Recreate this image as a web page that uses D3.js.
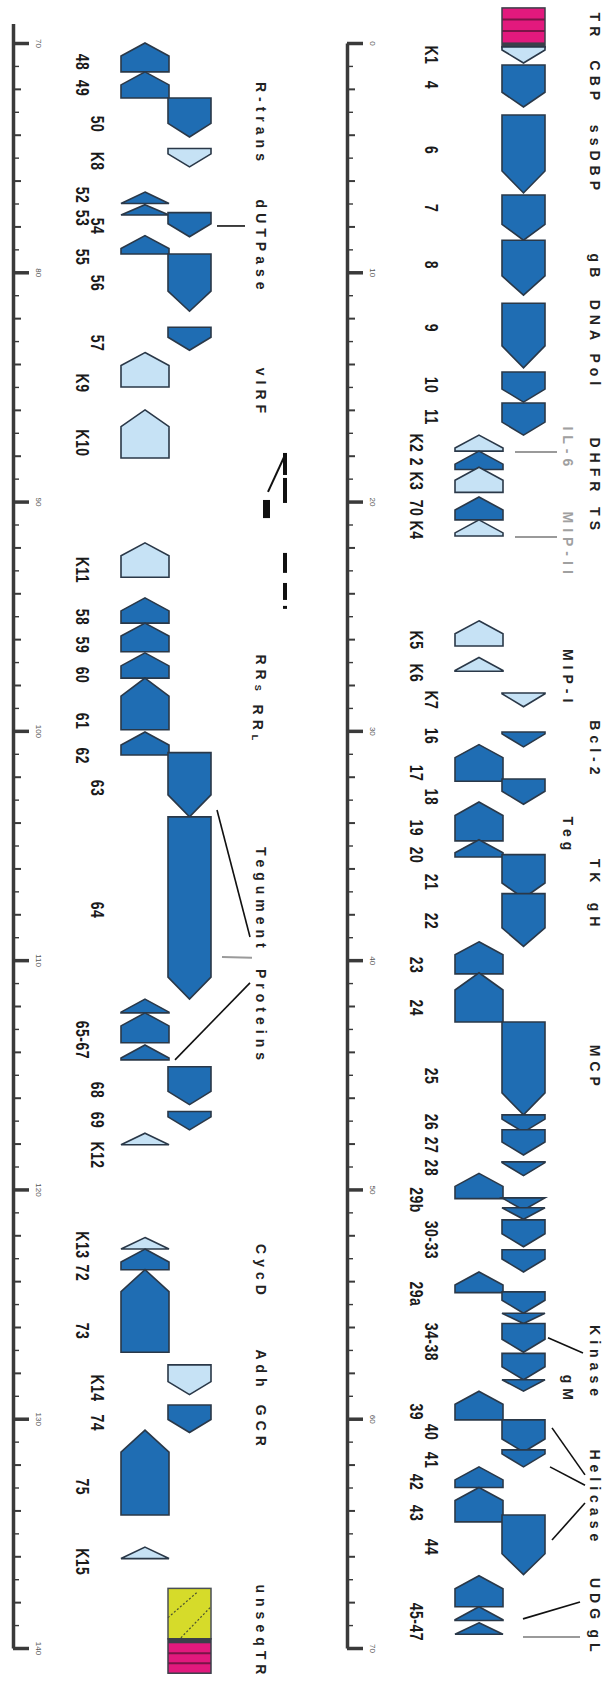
<!DOCTYPE html>
<html lang="en">
<head>
<meta charset="UTF-8">
<title>KSHV genome map</title>
<style>
  html, body { margin: 0; padding: 0; background: #fff; }
  svg { display: block; }
  text { font-family: "Liberation Sans", Arial, sans-serif; }
  .gene-label { font-size: 14px; font-weight: bold; letter-spacing: 0.5px; fill: #1a1a1a; }
  .func-label { font-size: 14px; font-weight: bold; letter-spacing: 5px; fill: #222; }
  .func-label.gray { fill: #a0a0a0; }
  .axis .domain { stroke: #3a3a3a; stroke-width: 3.5; }
  .axis .tick line { stroke: #3a3a3a; }
  .axis .tick text { font-size: 8px; fill: #555; }
</style>
<script src="https://cdnjs.cloudflare.com/ajax/libs/d3/7.8.5/d3.min.js"></script>
</head>
<body>
<svg class="map"></svg>
<script>
// ---- data (kb along the genome) ----
// strand 1 = rightward (drawn pointing down), -1 = leftward
const geneName = ["K1","4","6","7","8","9","10","11","K2","2","K3","70","K4","K5","K6","K7",
  "16","17","18","19","20","21","22","23","24","25","26","27","28","29b","30","31","32","33",
  "29a","34","35","36","37","38","39","40","41","42","43","44","45","46","47",
  "48","49","50","K8","52","53","54","55","56","57","K9","K10","K11","58","59","60","61","62",
  "63","64","65","66","67","68","69","K12","K13","72","73","K14","74","75","K15"];
const geneStart = [0.17,0.96,3.14,6.63,8.6,11.35,14.35,15.7,17.1,17.8,18.5,19.8,20.8,25.2,26.8,28.35,
  30.05,30.6,32.1,33.1,34.75,35.4,37.1,39.2,40.55,42.7,46.75,47.4,48.8,49.3,50.37,50.8,51.33,52.63,
  53.6,54.47,55.4,55.85,57.15,58.3,58.8,60.05,61.36,62.1,63.0,64.2,66.85,68.2,68.9,
  70.0,71.26,72.4,74.6,76.5,77.05,77.4,78.4,79.2,82.4,83.5,86.0,91.8,94.2,95.3,96.6,97.7,100.05,
  100.95,103.75,111.7,112.3,113.7,114.65,116.6,117.55,122.1,122.6,123.5,127.65,129.4,130.5,135.6];
const geneEnd = [0.87,2.79,6.54,8.6,11.0,14.17,15.66,17.1,17.8,18.6,19.6,20.8,21.5,26.3,27.4,28.95,
  30.7,32.2,33.2,34.8,35.5,37.3,39.4,40.6,42.7,46.75,47.5,48.5,49.4,50.4,50.9,51.3,52.5,53.6,
  54.5,55.4,55.85,57.1,58.3,58.8,60.05,61.45,62.1,63.0,64.5,66.8,68.2,68.8,69.4,
  71.26,72.4,74.1,75.4,77.0,77.5,78.45,79.2,81.7,83.4,85.0,88.1,93.3,95.3,96.55,97.7,99.95,101.05,
  103.75,111.7,112.3,113.6,114.35,116.3,117.4,118.05,122.6,123.5,127.1,128.95,130.6,134.2,136.1];
const geneStrand = [1,1,1,1,1,1,1,1,-1,-1,-1,-1,-1,-1,-1,1,
  1,-1,1,-1,-1,1,1,-1,-1,1,1,1,1,-1,1,1,1,1,
  -1,1,1,1,1,1,-1,1,1,-1,-1,1,-1,-1,-1,
  -1,-1,1,1,-1,-1,1,-1,1,1,-1,-1,-1,-1,-1,-1,-1,-1,
  1,1,-1,-1,-1,1,1,-1,-1,-1,-1,1,1,-1,-1];

// ORF number labels
const labelText = ["K1","4","6","7","8","9","10","11","K2","2","K3","70","K4","K5","K6","K7","16","17","18",
  "19","20","21","22","23","24","25","26","27","28","29b","30-33","29a","34-38","39","40","41","42","43","44","45-47",
  "48","49","50","K8","52","53","54","55","56","57","K9","K10","K11","58","59","60","61","62","63","64",
  "65-67","68","69","K12","K13","72","73","K14","74","75","K15"];
const labelKb = [0.52,1.83,4.67,7.2,9.68,12.43,14.92,16.31,17.44,18.27,19.1,20.28,21.24,26.04,27.47,28.65,30.22,31.84,32.88,
  34.23,35.41,36.59,38.29,40.21,42.08,45.05,47.06,48.06,49.06,50.46,52.2,54.56,56.65,59.7,60.58,61.8,62.76,64.11,65.6,68.86,
  70.83,71.96,73.53,75.15,76.63,77.63,77.98,79.33,80.47,83.08,84.83,87.44,92.98,95.03,96.25,97.56,99.57,101.09,102.49,107.81,
  113.48,115.66,116.97,118.5,122.42,123.64,126.17,128.66,130.18,132.97,136.24];
const labelStrand = [1,1,1,1,1,1,1,1,-1,-1,-1,-1,-1,-1,-1,1,1,-1,1,
  -1,-1,1,1,-1,-1,1,1,1,1,-1,1,-1,1,-1,1,1,-1,-1,1,-1,
  -1,-1,1,1,-1,-1,1,-1,1,1,-1,-1,-1,-1,-1,-1,-1,-1,1,1,
  -1,1,1,1,-1,-1,-1,1,1,-1,-1];

// function names ("_X" = subscript)
const funcText = ["TR","CBP","ssDBP","gB","DNA Pol","IL-6","DHFR","TS","MIP-II","MIP-I","Bcl-2","Teg","TK","gH","MCP",
  "Kinase","gM","Helicase","UDG","gL",
  "R-trans","dUTPase","vIRF","RR_S RR_L","Tegument","Proteins","CycD","Adh","GCR","unseqTR"];
const funcKb = [-0.7,1.74,5.1,9.81,13.17,17.7,18.49,20.85,21.9,27.7,30.83,34.58,36.2,38.12,44.7,
  57.57,58.74,63.45,67.95,69.78,
  73.53,78.9,85.26,98.65,107.37,112.48,123.6,127.9,130.4,139.3];
const funcInner = [0,0,0,0,0,1,0,0,1,1,0,1,0,0,0, 0,1,0,0,0, 0,0,0,0,0,0,0,0,0,0];
const funcGray  = [0,0,0,0,0,1,0,0,1,0,0,0,0,0,0, 0,0,0,0,0, 0,0,0,0,0,0,0,0,0,0];

// terminal repeats and unsequenced block
const blockKind = ["TR","unseq","TR"];
const blockStart = [-1.53,137.4,139.6];
const blockEnd = [0.2,139.6,141.1];

// ---- layout ----
const width = 612, height = 1686;
const trackDomains = [[0, 70], [70, 140]];
const trackAxisX = [347, 13];
const yTop = 43, yBottom = 1648;
const y = trackDomains.map(d => d3.scaleLinear().domain(d).range([yTop, yBottom]));
const trackOf = kb => kb < 70 ? 0 : 1;
const lane = { "1": [155, 198], "-1": [108, 156] };
const labelX = { "1": 85, "-1": 70 };
const funcX = [248, 221];

// leader lines: [kb from, x from, kb to, x to, gray]
const leaders = [
  [17.84,168,17.84,210,1],[21.54,168,21.54,210,1],
  [56.47,201,57.13,236,0],
  [60.4,205,62.45,238,0],[62.1,203,62.9,238,0],[65.29,205,63.68,238,0],
  [68.73,176,67.99,233,0],[69.52,176,69.52,233,1],
  [77.98,204,77.98,232,0],
  [103.45,204,108.99,237,0],[109.86,209,109.9,239,1],[114.35,162,110.99,237,0]
];
// stray dash marks near vIRF: [kb from, kb to, x, w]
const dashMarks = [[87.88,88.84,270,4],[88.97,90.06,270,4],[89.93,90.72,250,7],
  [92.24,93.11,270,4],[93.55,94.29,270,4],[94.55,94.68,270,4]];

const svg = d3.select("svg.map").attr("width", width).attr("height", height);
svg.append("rect").attr("width", width).attr("height", height).attr("fill", "#fff");

// ---- axes ----
trackDomains.forEach((dom, t) => {
  const ax = trackAxisX[t];
  const lo = t === 0 ? dom[0] : dom[0] - 0.85;
  const sc = y[t].copy().domain([lo, dom[1]]).range([y[t](lo), y[t](dom[1])]);
  const g = svg.append("g").attr("class", "axis").attr("transform", `translate(${ax},0)`);

  const minor = g.append("g").call(d3.axisRight(sc)
    .tickValues(d3.range(dom[0], dom[1] + 1, 1).filter(v => v % 10 !== 0))
    .tickSize(8).tickSizeOuter(0).tickFormat(""));
  minor.selectAll(".tick line")
    .attr("x2", d => d % 2 === 0 ? 8 : 6)
    .attr("stroke-width", d => d % 2 === 0 ? 2 : 1.4)
    .attr("stroke", d => d % 2 === 0 ? "#333" : "#777");

  const major = g.append("g").call(d3.axisRight(sc)
    .tickValues(d3.range(dom[0], dom[1] + 1, 10))
    .tickSize(16).tickSizeOuter(0));
  major.select(".domain").remove();
  major.selectAll(".tick line").attr("stroke-width", 3.5).attr("stroke", "#222");
  major.selectAll(".tick text")
    .attr("x", null).attr("dy", null)
    .attr("transform", "translate(25,0) rotate(90)")
    .attr("text-anchor", "middle")
    .attr("dominant-baseline", "central");
});

// ---- repeat blocks ----
const blocks = svg.append("g");
blockKind.forEach((kind, i) => {
  const t = trackOf(blockStart[i]);
  const ax = trackAxisX[t];
  const x0 = ax + lane["1"][0], x1 = ax + lane["1"][1];
  const y0 = y[t](blockStart[i]), y1 = y[t](blockEnd[i]);
  const g = blocks.append("g");
  if (kind === "TR") {
    const bandAtEnd = i === 0;
    const band = (y1 - y0) * 0.13;
    const m0 = bandAtEnd ? y0 : y0 + band, m1 = bandAtEnd ? y1 - band : y1;
    g.append("rect").attr("x", x0).attr("y", y0).attr("width", x1 - x0).attr("height", y1 - y0)
      .attr("fill", "#e2197d");
    g.append("rect").attr("x", x0).attr("y", bandAtEnd ? m1 : y0).attr("width", x1 - x0).attr("height", band)
      .attr("fill", "#3b3f4a");
    [1 / 3, 2 / 3].forEach(f => {
      const yy = m0 + (m1 - m0) * f;
      g.append("line").attr("x1", x0).attr("x2", x1).attr("y1", yy).attr("y2", yy)
        .attr("stroke", "#7a1447").attr("stroke-width", 2);
    });
    g.append("rect").attr("x", x0).attr("y", y0).attr("width", x1 - x0).attr("height", y1 - y0)
      .attr("fill", "none").attr("stroke", "#3b3f4a").attr("stroke-width", 1.5);
  } else {
    g.append("rect").attr("x", x0).attr("y", y0).attr("width", x1 - x0).attr("height", y1 - y0)
      .attr("fill", "#d6db2a").attr("stroke", "#4a4f55").attr("stroke-width", 1.5);
    const h = y1 - y0, w = x1 - x0;
    [[0, 0.58, 0.7, 0.06], [0.3, 0.98, 0.98, 0.38]].forEach(([ax0, ay0, ax1, ay1]) => {
      g.append("line")
        .attr("x1", x0 + w * ax0).attr("y1", y0 + h * ay0)
        .attr("x2", x0 + w * ax1).attr("y2", y0 + h * ay1)
        .attr("stroke", "#4a5030").attr("stroke-width", 1.2).attr("stroke-dasharray", "2,2");
    });
  }
});

// ---- genes ----
function genePath(start, end, strand) {
  const t = trackOf(start);
  const ax = trackAxisX[t];
  const [l, r] = lane[strand].map(v => ax + v);
  const c = (l + r) / 2;
  const y0 = y[t](start), y1 = y[t](end);
  const len = y1 - y0;
  const h = Math.min(len, Math.max(13, len * 0.35), 22);
  const pts = strand === 1
    ? [[l, y0], [r, y0], [r, y1 - h], [c, y1], [l, y1 - h]]
    : [[c, y0], [r, y0 + h], [r, y1], [l, y1], [l, y0 + h]];
  return d3.line()(pts) + "Z";
}

svg.append("g").selectAll("path")
  .data(d3.range(geneName.length))
  .join("path")
  .attr("d", i => genePath(geneStart[i], geneEnd[i], geneStrand[i]))
  .attr("fill", i => geneName[i].startsWith("K") ? "#c6e2f5" : "#1f6db3")
  .attr("stroke", "#2a3848")
  .attr("stroke-width", 1.6)
  .attr("stroke-linejoin", "miter");

// ---- ORF labels ----
svg.append("g").selectAll("text")
  .data(d3.range(labelText.length))
  .join("text")
  .attr("class", "gene-label")
  .attr("transform", i => {
    const t = trackOf(labelKb[i]);
    return `translate(${trackAxisX[t] + labelX[labelStrand[i]]},${y[t](labelKb[i])}) rotate(90) scale(1,1.3)`;
  })
  .attr("text-anchor", "middle")
  .attr("dominant-baseline", "central")
  .text(i => labelText[i]);

// ---- leader lines ----
svg.append("g").selectAll("line")
  .data(leaders)
  .join("line")
  .attr("x1", d => trackAxisX[trackOf(d[0])] + d[1])
  .attr("y1", d => y[trackOf(d[0])](d[0]))
  .attr("x2", d => trackAxisX[trackOf(d[0])] + d[3])
  .attr("y2", d => y[trackOf(d[0])](d[2]))
  .attr("stroke", d => d[4] ? "#9a9a9a" : "#111")
  .attr("stroke-width", d => d[4] ? 2 : 1.6);

const marks = svg.append("g");
dashMarks.forEach(d => {
  marks.append("rect")
    .attr("x", trackAxisX[1] + d[2]).attr("y", y[1](d[0]))
    .attr("width", d[3]).attr("height", y[1](d[1]) - y[1](d[0]))
    .attr("fill", "#111");
});
marks.append("line")
  .attr("x1", trackAxisX[1] + 272).attr("y1", y[1](87.97))
  .attr("x2", trackAxisX[1] + 255).attr("y2", y[1](89.58))
  .attr("stroke", "#111").attr("stroke-width", 2);

// ---- function labels ----
svg.append("g").selectAll("text")
  .data(d3.range(funcText.length))
  .join("text")
  .attr("class", i => funcGray[i] ? "func-label gray" : "func-label")
  .attr("transform", i => {
    const t = trackOf(funcKb[i]);
    return `translate(${trackAxisX[t] + funcX[funcInner[i]]},${y[t](funcKb[i])}) rotate(90)`;
  })
  .attr("text-anchor", "middle")
  .attr("dominant-baseline", "central")
  .each(function (i) {
    const el = d3.select(this);
    funcText[i].split(/(_\w)/).filter(s => s.length).forEach(part => {
      if (part.startsWith("_")) {
        el.append("tspan").attr("font-size", "9px").attr("dy", 3).text(part.slice(1));
        el.append("tspan").attr("dy", -3).text("");
      } else {
        el.append("tspan").text(part);
      }
    });
  });
</script>
</body>
</html>
